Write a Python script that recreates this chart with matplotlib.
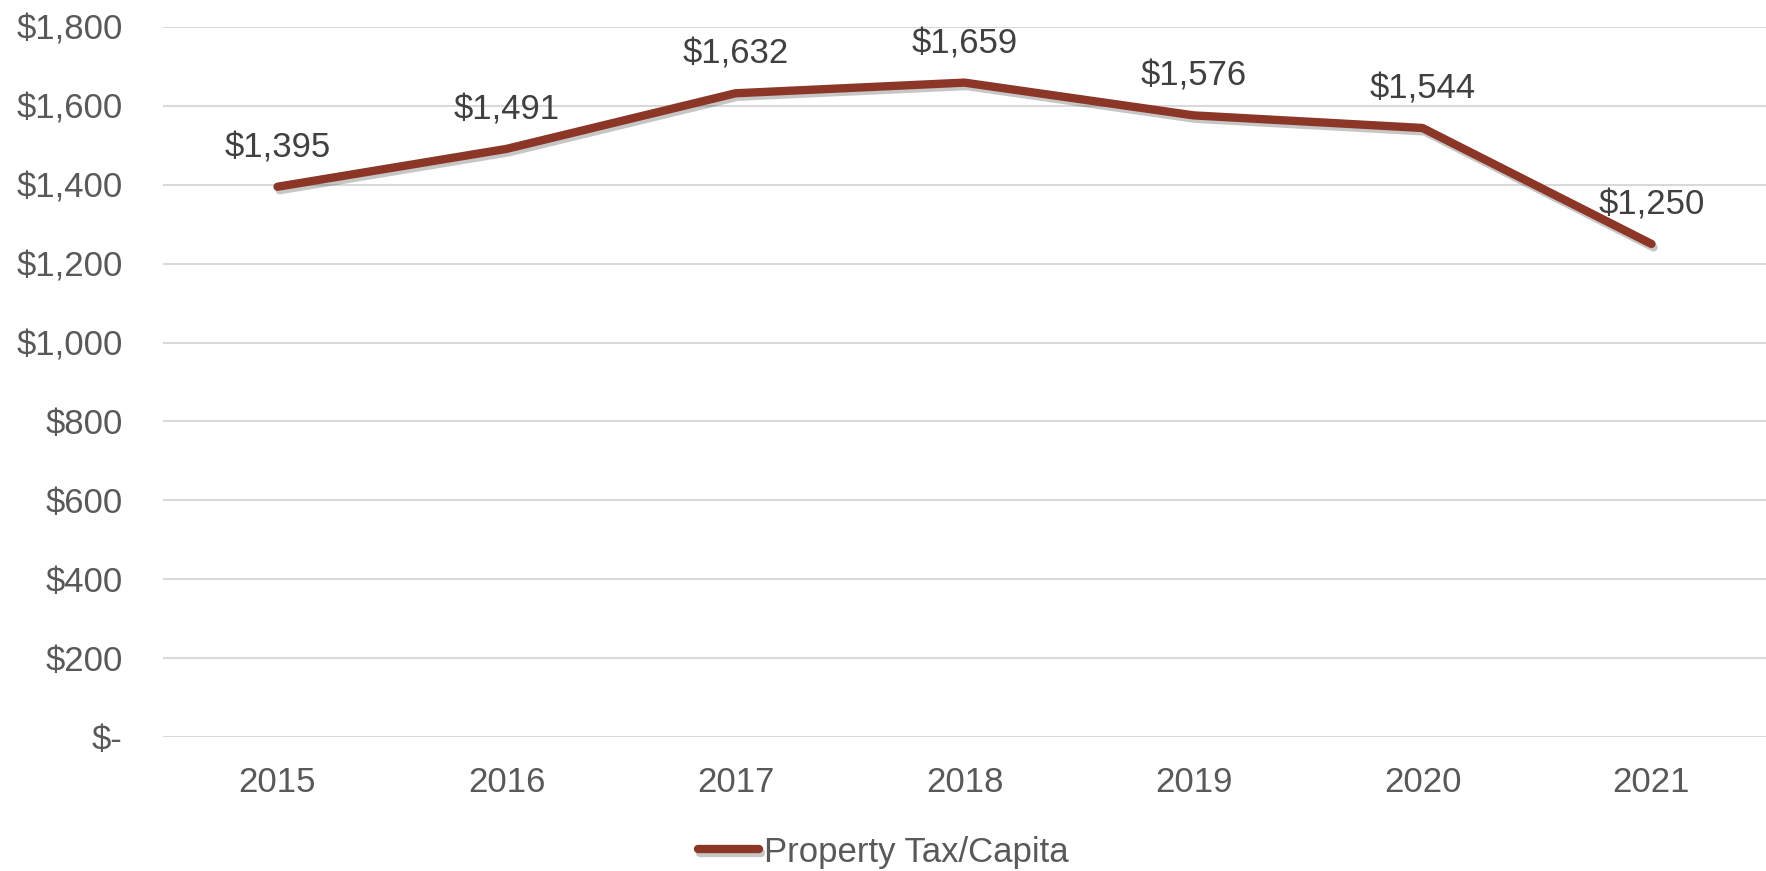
import matplotlib.pyplot as plt
import matplotlib.patheffects as pe
from matplotlib.ticker import FuncFormatter

years = ['2015', '2016', '2017', '2018', '2019', '2020', '2021']
tax_per_capita = [1395, 1491, 1632, 1659, 1576, 1544, 1250]
series_name = 'Property Tax/Capita'

plt.rcParams['font.family'] = ['Liberation Sans', 'DejaVu Sans']

line_color = '#8B3626'
tick_color = '#595959'
label_color = '#404040'

fig = plt.figure(figsize=(17.66, 8.71), dpi=100)
ax = fig.add_axes([163 / 1766, 1 - 737 / 871, 1603 / 1766, 710 / 871])

x = list(range(len(years)))
ax.plot(x, tax_per_capita, color=line_color, lw=6, solid_capstyle='round',
        solid_joinstyle='round', label=series_name,
        path_effects=[pe.SimpleLineShadow(offset=(1.5, -2.5), alpha=0.3, shadow_color='#444444'),
                      pe.Normal()])

for xi, v in zip(x, tax_per_capita):
    ax.annotate(f'${v:,}', (xi, v), xytext=(0, 28), textcoords='offset points',
                ha='center', va='center', fontsize=25, color=label_color)

ax.set_xlim(-0.5, len(years) - 0.5)
ax.set_ylim(0, 1800)
ax.set_yticks(range(0, 1801, 200))
ax.yaxis.set_major_formatter(FuncFormatter(lambda v, p: '$-' if v == 0 else f'${v:,.0f}'))
ax.set_xticks(x)
ax.set_xticklabels(years)
ax.tick_params(axis='both', length=0, labelsize=25, colors=tick_color)
ax.tick_params(axis='y', pad=29)
ax.tick_params(axis='x', pad=21)

ax.grid(axis='y', color='#D9D9D9', lw=1.5)
ax.set_axisbelow(True)
for s in ax.spines.values():
    s.set_visible(False)

leg = fig.legend(loc='center', bbox_to_anchor=(0.5, 1 - 852 / 871), frameon=False,
                 fontsize=25, handlelength=1.76, handletextpad=0.15, labelcolor=tick_color,
                 borderpad=0.1)

fig.savefig('out.png', dpi=100)
